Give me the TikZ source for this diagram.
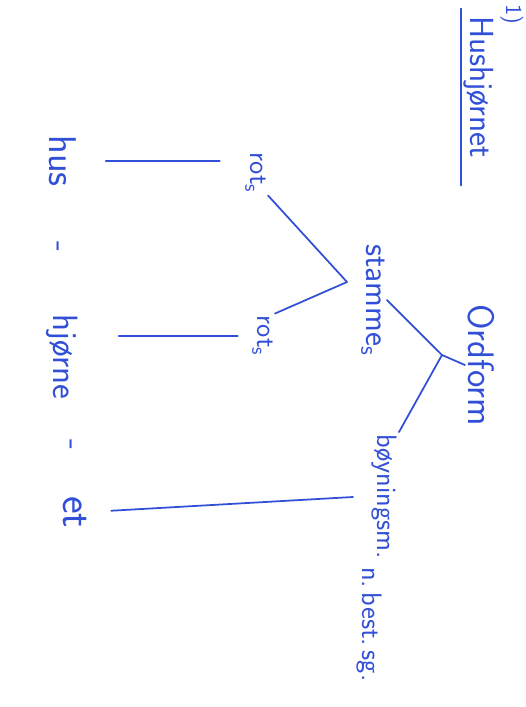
\documentclass[tikz,border=0pt]{standalone}
\usepackage{fontspec}
\usetikzlibrary{positioning}
\definecolor{ink}{RGB}{50,80,215}

\begin{document}
\begin{tikzpicture}[x=0.02cm, y=-0.02cm, thick]

	\tikzstyle{word}=[text=ink, inner sep=1pt, rotate=-90, anchor=base]
	\tikzstyle{pen}=[draw=ink, line width=1pt, line cap=round, line join=round]
	\useasboundingbox (0,0) rectangle (526,707);

	% heading
	\node[word, font=\sffamily\fontsize{13}{15}\selectfont] (num) at (506,14) {1)};
	\node[word, font=\sffamily\fontsize{19}{22}\selectfont] (title) at (470,87) {Hushjørnet};
	\draw[pen, shorten <=-0.1cm, shorten >=-0.5cm] (title.south west) -- (title.south east);

	% tree
	\node[word, font=\sffamily\fontsize{21}{24}\selectfont] (ord) at (468,365) {Ordform};
	\node[word, font=\sffamily\fontsize{19}{22}\selectfont] (stamme) at (366,300) {stamme\textsubscript{s}};
	\node[word, font=\sffamily\fontsize{16}{18}\selectfont] (boy) at (377,558) {bøyningsm.\ \raisebox{-0.3cm}{n.\,best.\,sg.}};
	\node[word, font=\sffamily\fontsize{16}{18}\selectfont] (rot1) at (250,173) {rot\textsubscript{s}};
	\node[word, font=\sffamily\fontsize{16}{18}\selectfont] (rot2) at (257,336) {rot\textsubscript{s}};

	\coordinate (ordV) at (442,355);
	\coordinate (stV) at (347,282);
	\coordinate (boyIn) at (353,497);

	\draw[pen] (ord.south) -- (ordV);
	\draw[pen] (stamme.north) -- (ordV) -- (boy.north west);
	\draw[pen] (rot1.north east) -- (stV) -- (rot2.north west);

	% word split
	\node[word, font=\sffamily\fontsize{22}{24}\selectfont] (hus) at (50,161) {hus};
	\node[word, font=\sffamily\fontsize{20}{24}\selectfont] (d1) at (51,247) {-};
	\node[word, font=\sffamily\fontsize{20}{24}\selectfont] (hjorne) at (53,357) {hjørne};
	\node[word, font=\sffamily\fontsize{20}{24}\selectfont] (d2) at (63,445) {-};
	\node[word, font=\sffamily\fontsize{24}{28}\selectfont] (et) at (63,512) {et};

	\draw[pen, shorten <=0.53cm, shorten >=0.46cm] (hus.north) -- (hus.north -| rot1.south);
	\draw[pen, shorten <=0.78cm, shorten >=0.24cm] (rot2.south -| hjorne.north) -- (rot2.south);
	\draw[pen, shorten <=0.45cm] (et.north) -- (boyIn);

\end{tikzpicture}
\end{document}
